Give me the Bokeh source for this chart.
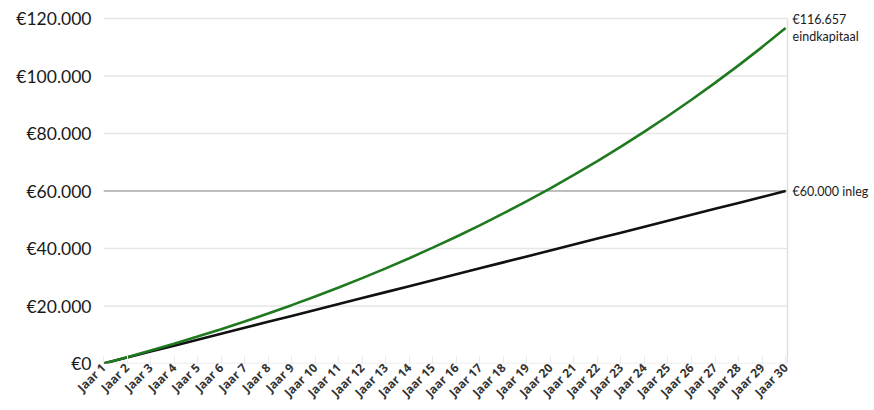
import math
from bokeh.plotting import figure
from bokeh.models import FixedTicker, Range1d
from bokeh.core.properties import value
from bokeh.embed import file_html
from bokeh.resources import INLINE

years = list(range(1, 31))
year_labels = ["Jaar %d" % y for y in years]
eindkapitaal = [0, 2202, 4493, 6875, 9353, 11929, 14609, 17396, 20294, 23308,
                26443, 29703, 33094, 36620, 40288, 44101, 48068, 52193, 56483, 60945,
                65586, 70411, 75430, 80650, 86078, 91724, 97596, 103702, 110053, 116657]
inleg = [0, 2069, 4138, 6207, 8276, 10345, 12414, 14483, 16552, 18621,
         20690, 22759, 24828, 26897, 28966, 31034, 33103, 35172, 37241, 39310,
         41379, 43448, 45517, 47586, 49655, 51724, 53793, 55862, 57931, 60000]
y_ticks = [0, 20000, 40000, 60000, 80000, 100000, 120000]
y_tick_labels = ["€0", "€20.000", "€40.000", "€60.000", "€80.000", "€100.000", "€120.000"]
end_labels = ["€116.657\neindkapitaal", "€60.000 inleg"]

X_END = 30.08
p = figure(width=872, height=410, output_backend="svg", toolbar_location=None,
           x_range=Range1d(1, 33.61), y_range=Range1d(0, 124870),
           min_border_left=103, min_border_right=2, min_border_top=4, min_border_bottom=47)
p.outline_line_color = None

# y axis
p.yaxis.ticker = FixedTicker(ticks=y_ticks)
p.yaxis.major_label_overrides = {t: l for t, l in zip(y_ticks, y_tick_labels)}
p.yaxis.axis_line_color = None
p.yaxis.major_tick_line_color = None
p.yaxis.minor_tick_line_color = None
p.yaxis.major_label_text_font = "Lato"
p.yaxis.major_label_text_font_size = "17.5px"
p.yaxis.major_label_text_color = "#1a1a1a"
p.yaxis.major_label_standoff = 6

# x axis
p.xaxis.ticker = FixedTicker(ticks=years)
p.xaxis.major_label_overrides = {y: l for y, l in zip(years, year_labels)}
p.xaxis.major_label_orientation = math.pi / 4
p.xaxis.axis_line_color = None
p.xaxis.major_tick_in = 8
p.xaxis.major_tick_out = 0
p.xaxis.major_tick_line_color = "#ebebeb"
p.xaxis.minor_tick_line_color = None
p.xaxis.major_label_text_font = "Open Sans"
p.xaxis.major_label_text_font_style = "bold"
p.xaxis.major_label_text_font_size = "12px"
p.xaxis.major_label_text_color = "#333333"
p.xaxis.major_label_standoff = 2

p.xgrid.grid_line_color = None
p.ygrid.grid_line_color = None

# gridlines ending at the last year
grid_colors = ["#e6e6e6" if t != 60000 else "#a8a8a8" for t in y_ticks]
p.segment(x0=[1] * len(y_ticks), y0=y_ticks, x1=[X_END] * len(y_ticks), y1=y_ticks,
          line_color=grid_colors, line_width=1.5)
p.segment(x0=[X_END], y0=[0], x1=[X_END], y1=[y_ticks[-1]], line_color="#e0e0e0", line_width=1.5)

p.line(years, inleg, line_color="#111111", line_width=2.6)
p.line(years, eindkapitaal, line_color="#1f7a1f", line_width=2.6)

p.text(x=[years[-1], years[-1]], y=[eindkapitaal[-1], inleg[-1]], text=end_labels,
       x_offset=7, text_font=value("Lato"), text_font_size="12.5px", text_color="#1a1a1a",
       text_baseline="middle", text_align="left", text_line_height=1.15)

open("out.html", "w").write(file_html(p, INLINE))
